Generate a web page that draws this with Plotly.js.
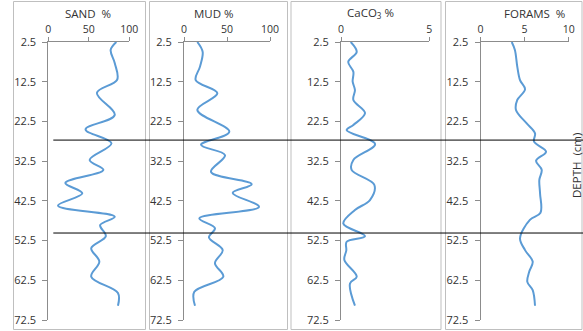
<!DOCTYPE html>
<html><head><meta charset="utf-8">
<script src="https://cdn.plot.ly/plotly-3.0.1.min.js"></script>
<style>html,body{margin:0;padding:0;background:#fff;}#chart{width:583px;height:331px;}</style>
</head><body><div id="chart"></div>
<script>
// ---- data ----
const panelTitles = ['SAND\u00a0\u00a0%', 'MUD %', 'CaCO<sub>3</sub> %', 'FORAMS\u00a0\u00a0%'];
const depthTicks = [2.5, 12.5, 22.5, 32.5, 42.5, 52.5, 62.5, 72.5];
const boundaryDepths = [27.2, 50.6];

const sandDepth = [2.5, 4.5, 7.8, 12, 15.3, 20.9, 24.5, 28, 32.2, 34.7, 38, 40.6, 43.7, 46.5, 48.6, 51.4, 54.4, 57.8, 61.6, 65.7, 68.9];
const sandPct   = [84, 77, 82, 85, 60, 82, 46, 78, 51, 68, 21, 42, 12, 82, 64, 71, 53, 63, 53, 86, 86];

const mudDepth = [2.5, 5, 8.7, 12.1, 15.4, 19.6, 25.1, 28.4, 31, 35.2, 38.3, 40.5, 44, 46.9, 49.4, 51.7, 54.9, 58.2, 61.6, 65.4, 68.9];
const mudPct   = [15.5, 21.7, 18.6, 13.6, 38.8, 15.5, 52.7, 19.8, 47.7, 31.4, 78.7, 56.6, 87.2, 17.8, 36, 29, 45, 36, 45.7, 12, 12.8];

const caco3Depth = [2.5, 5, 7.5, 10, 12.5, 14.6, 17.1, 20.4, 23.4, 24.7, 28.2, 32.2, 34.7, 38.5, 42.3, 44.8, 48.2, 51.4, 52.8, 55, 57.4, 61.6, 63.3, 68.9];
const caco3Pct   = [0.55, 0.89, 0.41, 0.70, 0.66, 0.79, 0.70, 1.36, 0.70, 0.32, 1.93, 0.70, 0.60, 1.89, 1.64, 0.79, 0.13, 1.36, 0.32, 0.30, 0.19, 0.89, 0.51, 0.79];

const foramsDepth = [2.5, 4.5, 8.7, 12.1, 14.4, 17.1, 19.6, 23, 25.5, 27.6, 30.1, 32.4, 34.7, 37.2, 40.6, 45.5, 47.3, 51.9, 54.9, 57.8, 60.3, 62.9, 65, 68.9];
const foramsPct   = [3.54, 3.9, 4.17, 4.48, 5.05, 4.17, 4.02, 5.24, 6.18, 6.07, 7.43, 6.3, 6.94, 6.67, 6.75, 6.8, 5.6, 4.48, 5.05, 5.92, 5.53, 5.31, 5.92, 6.18];

const xRanges = [[0, 100], [0, 100], [0, 5], [0, 10]];
const xTicks  = [[0, 50, 100], [0, 50, 100], [0, 5], [0, 5, 10]];

// ---- layout geometry (pixels) ----
const W = 583, H = 331;
const px = v => v / W, py = v => 1 - v / H;
const xDom = [[48.3, 129.3], [184, 270], [341, 429.3], [480.5, 568.7]];
const yDom = [py(320), py(42)];
const boxes = [[13.5, 145.5], [149.5, 287.5], [291, 441], [445.5, 582]];
const titleX = [87.5, 213.5, 370, 534.7];

const depths = [sandDepth, mudDepth, caco3Depth, foramsDepth];
const values = [sandPct, mudPct, caco3Pct, foramsPct];

const fontFam = '"Open Sans", Arial, sans-serif';
const tickCol = '#8c8c8c';
const txtCol = '#333333';

const traces = [];
const layout = {
  width: W, height: H, margin: {l: 0, r: 0, t: 0, b: 0},
  paper_bgcolor: '#fff', plot_bgcolor: 'rgba(0,0,0,0)',
  showlegend: false, font: {family: fontFam, color: txtCol, size: 10.5},
  annotations: [], shapes: []
};

for (let i = 0; i < 4; i++) {
  const s = i === 0 ? '' : String(i + 1);
  traces.push({
    x: values[i], y: depths[i], xaxis: 'x' + s, yaxis: 'y' + s,
    type: 'scatter', mode: 'lines', hoverinfo: 'skip',
    line: {color: '#5B9BD5', width: 2, shape: 'spline', smoothing: 1}
  });
  layout['xaxis' + s] = {
    domain: [px(xDom[i][0]), px(xDom[i][1])], range: xRanges[i], side: 'top',
    anchor: 'y' + s, tickmode: 'array', tickvals: xTicks[i],
    showline: true, linecolor: tickCol, linewidth: 1,
    ticks: 'outside', ticklen: 4, tickcolor: tickCol, tickwidth: 1,
    ticklabelstandoff: 0,
    showgrid: false, zeroline: false, fixedrange: true,
    tickfont: {family: fontFam, size: 10.5, color: txtCol}
  };
  layout['yaxis' + s] = {
    domain: yDom, range: [72.5, 2.5], anchor: 'x' + s,
    tickmode: 'array', tickvals: depthTicks, ticktext: depthTicks.map(String),
    showline: true, linecolor: tickCol, linewidth: 1,
    ticks: 'outside', ticklen: 5, tickcolor: tickCol, tickwidth: 1,
    ticklabelstandoff: 4,
    showgrid: false, zeroline: false, fixedrange: true,
    tickfont: {family: fontFam, size: 11, color: txtCol}
  };
  layout.annotations.push({
    text: panelTitles[i], xref: 'paper', yref: 'paper',
    x: px(titleX[i]), y: py(13), xanchor: 'center', yanchor: 'middle',
    showarrow: false, borderpad: 0, font: {family: fontFam, size: 11.5, color: txtCol}
  });
  layout.shapes.push({
    type: 'rect', xref: 'paper', yref: 'paper', layer: 'below',
    x0: px(boxes[i][0]), x1: px(boxes[i][1]), y0: py(329.5), y1: py(1.5),
    line: {color: '#bfbfbf', width: 1}
  });
}

layout.annotations.push({
  text: 'DEPTH\u00a0\u00a0(cm)', xref: 'paper', yref: 'paper',
  x: px(576), y: py(166), xanchor: 'center', yanchor: 'middle', textangle: -90,
  showarrow: false, borderpad: 0, font: {family: fontFam, size: 11.5, color: txtCol}
});

boundaryDepths.forEach(d => layout.shapes.push({
  type: 'line', xref: 'paper', yref: 'y', x0: px(53.3), x1: 1, y0: d, y1: d,
  line: {color: '#000', width: 1}
}));

Plotly.newPlot('chart', traces, layout, {displayModeBar: false, staticPlot: true});
</script></body></html>
